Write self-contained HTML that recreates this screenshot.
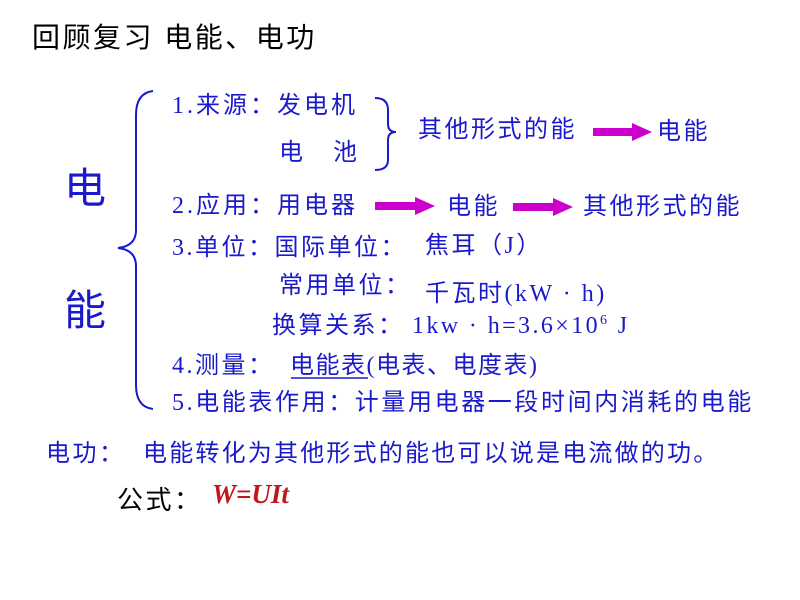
<!DOCTYPE html>
<html><head><meta charset="utf-8"><style>
body{margin:0;width:800px;height:600px;background:#fff;position:relative;overflow:hidden;font-family:"Liberation Sans","Noto Sans CJK SC",sans-serif;}
.t{position:absolute;white-space:nowrap;color:#1a1acc;font-size:24px;line-height:1;letter-spacing:2.5px;}
.s{font-family:"Liberation Serif","Noto Sans CJK SC",serif;}
.ar{position:absolute;}
</style></head><body>
<div class="t" style="left:32px;top:24px;color:#000;font-size:28px;letter-spacing:2.5px;">回顾复习 电能、电功</div>
<div class="t" style="left:64px;top:168px;font-size:42px;">电</div>
<div class="t" style="left:64px;top:290px;font-size:42px;">能</div>

<svg class="ar" style="left:0;top:0" width="800" height="600">
<path d="M153 91 Q136 93 136 115 L136 230 Q136 246 118 248 Q136 250 136 266 L136 385 Q136 407 153 409" fill="none" stroke="#1a1acc" stroke-width="2"/>
<path d="M375 98 Q388 98 388 110 L388 124 Q388 132 396 132 Q388 132 388 140 L388 160 Q388 170 375 170" fill="none" stroke="#1a1acc" stroke-width="2"/>
<g fill="#cc00cc">
<polygon points="593,128 632,128 632,123 652,132 632,141 632,136 593,136"/>
<polygon points="375,202 415,202 415,197 435,206 415,215 415,210 375,210"/>
<polygon points="513,203 553,203 553,198 573,207 553,216 553,211 513,211"/>
</g>
<line x1="291" y1="378" x2="368" y2="378" stroke="#1a1acc" stroke-width="1.5"/>
</svg>

<div class="t" style="left:172px;top:94px;letter-spacing:3px;"><span class="s">1.</span>来源：发电机</div>
<div class="t" style="left:279px;top:141px;">电&nbsp;&nbsp;&nbsp;池</div>
<div class="t" style="left:418px;top:118px;">其他形式的能</div>
<div class="t" style="left:657px;top:120px;">电能</div>

<div class="t" style="left:172px;top:194px;letter-spacing:3px;"><span class="s">2.</span>应用：用电器</div>
<div class="t" style="left:447px;top:195px;">电能</div>
<div class="t" style="left:583px;top:195px;">其他形式的能</div>

<div class="t" style="left:172px;top:236px;"><span class="s">3.</span>单位：国际单位：</div>
<div class="t" style="left:425px;top:234px;">焦耳（<span class="s">J</span>）</div>
<div class="t" style="left:279px;top:274px;">常用单位：</div>
<div class="t" style="left:425px;top:282px;">千瓦时<span class="s">(kW · h)</span></div>
<div class="t" style="left:272px;top:314px;">换算关系：</div>
<div class="t s" style="left:412px;top:314px;letter-spacing:2.4px;">1kw · h=3.6×10<sup style="font-size:14px">6</sup> J</div>

<div class="t" style="left:172px;top:354px;"><span class="s">4.</span>测量：</div>
<div class="t" style="left:290px;top:354px;letter-spacing:1.5px;">电能表<span class="s">(</span>电表、电度表<span class="s">)</span></div>
<div class="t" style="left:172px;top:391px;letter-spacing:2.6px;"><span class="s">5.</span>电能表作用：计量用电器一段时间内消耗的电能</div>

<div class="t" style="left:46px;top:442px;">电功：</div>
<div class="t" style="left:143px;top:442px;letter-spacing:2.2px;">电能转化为其他形式的能也可以说是电流做的功。</div>
<div class="t" style="left:117px;top:487px;color:#000;font-size:26px;">公式：</div>
<div class="t" style="left:212px;top:481px;color:#c01818;font-size:27px;font-weight:bold;font-style:italic;font-family:'Liberation Serif',serif;letter-spacing:0;">W=UIt</div>
</body></html>
